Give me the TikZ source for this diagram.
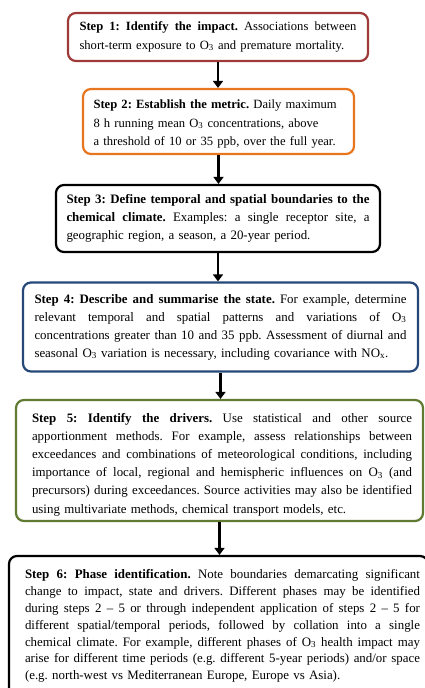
\documentclass[tikz,border=0pt]{standalone}
\usepackage{fontspec}
\setmainfont{Liberation Serif}
\usetikzlibrary{arrows.meta}

\definecolor{impactred}{RGB}{158,58,56}
\definecolor{metricorange}{RGB}{232,118,30}
\definecolor{stateblue}{RGB}{38,72,120}
\definecolor{drivergreen}{RGB}{96,122,50}

% \jl: one fully justified line, \jlw wide, after a left indent of \jlind;
% \lastln: a last (ragged) line with the same indent
\newcommand{\jlw}{0pt}
\newcommand{\jlind}{0pt}
\newcommand{\jl}[1]{\leavevmode\null\hskip\jlind\relax
  \hbox to \jlw{\spaceskip=0.25em plus 1fil\relax #1}}
\newcommand{\lastln}[1]{\leavevmode\null\hskip\jlind\relax #1}
\newcommand{\Othree}{O\textsubscript{3}}

\begin{document}
\begin{tikzpicture}[x=1pt,y=-1pt,
  stepbox/.style={draw, line width=2.2pt, rounded corners=8pt, align=left,
    inner xsep=0pt, inner ysep=0pt, fill=white},
  smalltext/.style={font=\fontsize{12.6}{18.2}\selectfont\frenchspacing},
  bigtext/.style={font=\fontsize{12.9}{#1}\selectfont\frenchspacing},
  bigtext/.default=18,
  flow/.style={line width=2.6pt, -{Triangle[length=7pt,width=10pt]}}]
\useasboundingbox (0,0) rectangle (425,688);

\def\jlw{277pt}
\node[stepbox, smalltext, draw=impactred, minimum width=300pt, minimum height=48pt,
      text width=\jlw] (b1) at (218,37)
 {\jl{\textbf{Step 1: Identify the impact.} Associations between}\\
  short-term exposure to \Othree{} and premature mortality.};

\def\jlw{250pt}
\node[stepbox, smalltext, draw=metricorange, minimum width=271pt, minimum height=65pt,
      text width=\jlw] (b2) at (218.5,121.5)
 {\rule{0pt}{14pt}\textbf{Step 2: Establish the metric.} Daily maximum\\
  8 h running mean \Othree{} concentrations, above\\
  a threshold of 10 or 35 ppb, over the full year.};

\def\jlw{303pt}
\node[stepbox, bigtext, draw=black, minimum width=324pt, minimum height=67pt,
      text width=\jlw] (b3) at (218,218.5)
 {\jl{\textbf{Step 3: Define temporal and spatial boundaries to the}}\\
  \jl{\textbf{chemical climate.} Examples: a single receptor site, a}\\
  geographic region, a season, a 20-year period.};

\def\jlw{372pt}
\node[stepbox, bigtext, draw=stateblue, minimum width=395pt, minimum height=89pt,
      text width=\jlw] (b4) at (220.5,327)
 {\jl{\textbf{Step 4: Describe and summarise the state.} For example, determine}\\
  \jl{relevant temporal and spatial patterns and variations of \Othree}\\
  \jl{concentrations greater than 10 and 35 ppb. Assessment of diurnal and}\\
  seasonal \Othree{} variation is necessary, including covariance with NO\textsubscript{x}.};

\def\jlw{380pt}\def\jlind{6pt}
\node[stepbox, bigtext=18.2, draw=drivergreen, minimum width=407pt, minimum height=121pt,
      text width=387pt] (b5) at (219.5,460.5)
 {\jl{\rule{0pt}{17pt}\textbf{Step 5: Identify the drivers.} Use statistical and other source}\\
  \jl{apportionment methods. For example, assess relationships between}\\
  \jl{exceedances and combinations of meteorological conditions, including}\\
  \jl{importance of local, regional and hemispheric influences on \Othree{} (and}\\
  \jl{precursors) during exceedances. Source activities may also be identified}\\
  \lastln{using multivariate methods, chemical transport models, etc.}};

\def\jlw{395pt}\def\jlind{8.5pt}
\node[stepbox, bigtext=16.9, draw=black, minimum width=419pt, minimum height=140pt,
      text width=404pt] (b6) at (218.5,626)
 {\jl{\textbf{Step 6: Phase identification.} Note boundaries demarcating significant}\\
  \jl{change to impact, state and drivers. Different phases may be identified}\\
  \jl{during steps 2 -- 5 or through independent application of steps 2 -- 5 for}\\
  \jl{different spatial/temporal periods, followed by collation into a single}\\
  \jl{chemical climate. For example, different phases of \Othree{} health impact may}\\
  \jl{arise for different time periods (e.g. different 5-year periods) and/or space}\\
  \lastln{(e.g. north-west vs Mediterranean Europe, Europe vs Asia).}};

% each connector drops straight down from the centre of the box above
\draw[flow] (b1.south) -- (b1.south |- b2.north);
\draw[flow] (b2.south) -- (b2.south |- b3.north);
\draw[flow] (b3.south) -- (b3.south |- b4.north);
\draw[flow] (b4.south) -- (b4.south |- b5.north);
\draw[flow] (b5.south) -- (b5.south |- b6.north);
\end{tikzpicture}
\end{document}
